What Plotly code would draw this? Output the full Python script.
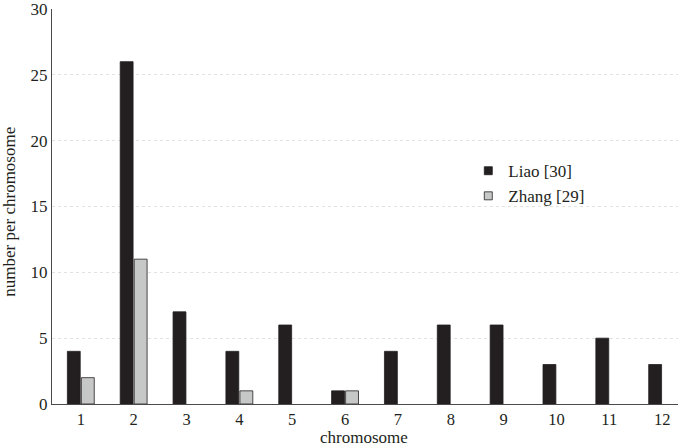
import plotly.graph_objects as go

chromosomes = [1, 2, 3, 4, 5, 6, 7, 8, 9, 10, 11, 12]
tick_labels = [str(c) for c in chromosomes]
liao = [4, 26, 7, 4, 6, 1, 4, 6, 6, 3, 5, 3]
zhang = [2, 11, 0, 1, 0, 1, 0, 0, 0, 0, 0, 0]
y_ticks = [0, 5, 10, 15, 20, 25, 30]

font_family = "Liberation Serif, Times New Roman, serif"
dark = "#231f20"
grey = "#c6c8c8"

fig = go.Figure()
fig.add_trace(go.Bar(x=chromosomes, y=liao, name="Liao [30]", showlegend=False,
                     marker=dict(color=dark, line=dict(color=dark, width=0.8))))
fig.add_trace(go.Bar(x=chromosomes, y=[v if v else None for v in zhang], name="Zhang [29]",
                     showlegend=False,
                     marker=dict(color=grey, line=dict(color=dark, width=0.8))))
# legend entries (small square keys like the reference)
fig.add_trace(go.Scatter(x=[None], y=[None], mode="markers", name="Liao [30]",
                         marker=dict(symbol="square", size=8, color=dark,
                                     line=dict(color=dark, width=0.8))))
fig.add_trace(go.Scatter(x=[None], y=[None], mode="markers", name="Zhang [29]",
                         marker=dict(symbol="square", size=8, color=grey,
                                     line=dict(color=dark, width=0.8))))

fig.update_layout(
    width=682, height=446,
    margin=dict(l=52, r=4, t=9, b=42),
    paper_bgcolor="white", plot_bgcolor="white",
    barmode="group", bargap=0.47, bargroupgap=0.08,
    font=dict(family=font_family, size=17, color=dark),
    legend=dict(x=0.665, y=0.635, xanchor="left", yanchor="top",
                bgcolor="rgba(0,0,0,0)", font=dict(size=17),
                itemwidth=30, tracegroupgap=2),
    xaxis=dict(
        range=[0.455, 12.3], tickmode="array", tickvals=chromosomes, ticktext=tick_labels,
        showgrid=False, showline=True, linecolor="#4a4a4a", linewidth=1.2,
        ticks="", tickfont=dict(size=16.5), automargin=False,
        zeroline=False, ticklabeloverflow="allow",
    ),
    yaxis=dict(
        range=[0, 30], tickvals=y_ticks,
        showgrid=True, gridcolor="#e2e2e2", griddash="dot", gridwidth=1,
        showline=True, linecolor="#4a4a4a", linewidth=1.2,
        ticks="", tickfont=dict(size=17), automargin=False,
        zeroline=False, ticklabeloverflow="allow",
    ),
    annotations=[
        dict(text="chromosome", xref="paper", yref="paper", x=0.499, y=-0.0855,
             xanchor="center", yanchor="middle", showarrow=False, font=dict(size=17)),
        dict(text="number per chromosome", xref="paper", yref="paper", x=-0.067, y=0.487,
             xanchor="center", yanchor="middle", textangle=-90, showarrow=False,
             font=dict(size=17)),
    ],
)

fig.write_html("out.html", config={"displayModeBar": False},
               post_script="document.body.style.margin='0';")
